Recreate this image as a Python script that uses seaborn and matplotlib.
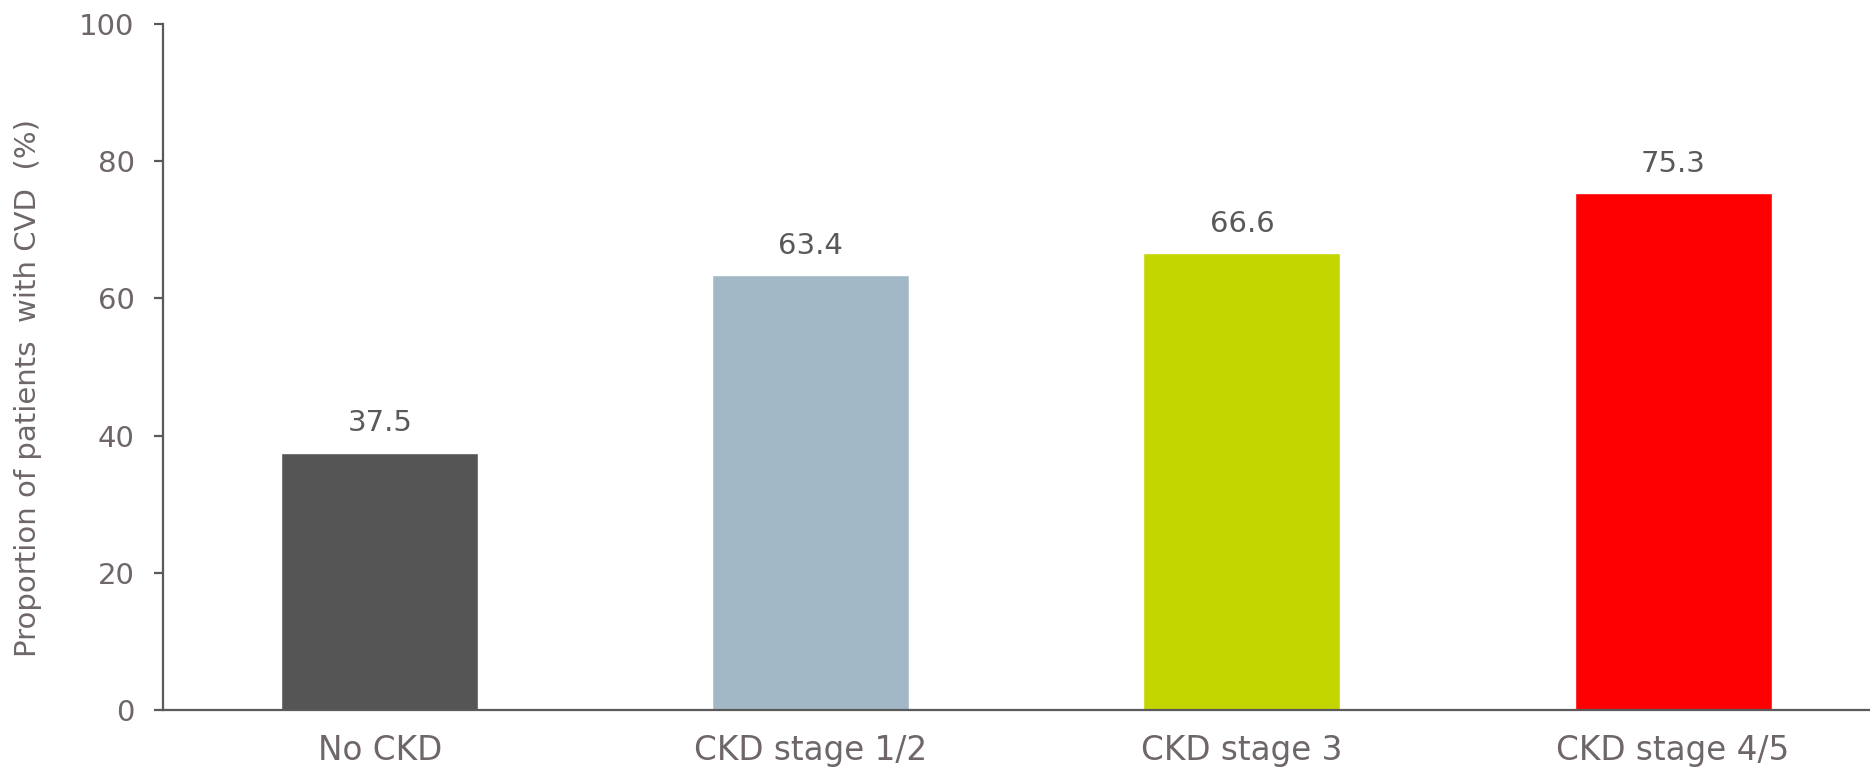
import matplotlib
matplotlib.use("Agg")
import matplotlib.pyplot as plt
import seaborn as sns
import pandas as pd

categories = ["No CKD", "CKD stage 1/2", "CKD stage 3", "CKD stage 4/5"]
values = [37.5, 63.4, 66.6, 75.3]
colors = ["#555555", "#A3B8C6", "#C4D600", "#FE0000"]
y_ticks = [0, 20, 40, 60, 80, 100]
y_label = "Proportion of patients  with CVD  (%)"

sns.set_theme(style="white")
plt.rcParams["font.family"] = ["DejaVu Sans"]

tick_color = "#6E6668"
axis_color = "#5A5A5A"

fig = plt.figure(figsize=(18.7, 7.68), dpi=100)
ax = fig.add_axes([163 / 1870, 1 - 710 / 768, 1 - 163 / 1870, (710 - 24) / 768])

df = pd.DataFrame({"cat": categories, "val": values})
sns.barplot(data=df, x="cat", y="val", hue="cat", palette=colors,
            width=0.457, legend=False, ax=ax, saturation=1)

ax.set_ylim(0, 100)
ax.set_xlim(-0.503, 3.457)
ax.set_yticks(y_ticks)
ax.set_xlabel("")
ax.set_ylabel(y_label, fontsize=21, color=tick_color)
ax.yaxis.set_label_coords(-0.071, 0.47)

for s in ["top", "right"]:
    ax.spines[s].set_visible(False)
for s in ["left", "bottom"]:
    ax.spines[s].set_color(axis_color)
    ax.spines[s].set_linewidth(1.6)

ax.tick_params(axis="y", length=6.5, width=1.6, color=axis_color,
               labelsize=21, labelcolor=tick_color, pad=14, left=True)
ax.tick_params(axis="x", length=0, labelsize=23.5, labelcolor=tick_color, pad=17)

for c in ax.containers:
    ax.bar_label(c, labels=[f"{v:.1f}" for v in c.datavalues],
                 padding=11, fontsize=21, color="#595959")

fig.savefig("out.png", dpi=100)
